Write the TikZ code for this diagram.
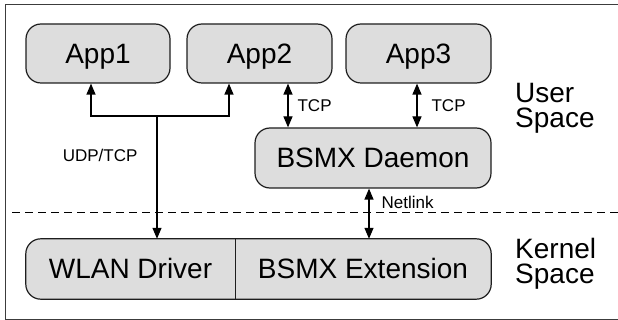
\documentclass[tikz,border=0pt]{standalone}
\usepackage{fontspec}
\setmainfont{Liberation Sans}
\usetikzlibrary{arrows.meta,backgrounds}
\definecolor{boxfill}{RGB}{221,221,221}
\definecolor{boxline}{RGB}{30,30,30}
\definecolor{framecol}{RGB}{60,60,60}
\begin{document}
\begin{tikzpicture}[x=1pt,y=-1pt,
  bigfont/.style={font=\fontsize{28}{25}\selectfont},
  box/.style={draw=boxline, fill=boxfill, line width=1.2pt, rounded corners=15pt,
    inner sep=0pt, minimum height=59pt, bigfont, text height=20pt, text depth=0pt},
  bare/.style={inner sep=0pt, minimum height=60pt, bigfont, text height=20pt, text depth=0pt},
  outline/.style={draw=boxline, fill=boxfill, line width=1.2pt, rounded corners=15pt},
  tip/.tip={Triangle[length=11pt,width=9pt]},
  link/.style={line width=1.2pt, -tip},
  dlink/.style={line width=1.2pt, tip-tip},
  lbl/.style={font=\fontsize{17}{20}\selectfont, inner sep=0pt},
  side/.style={bigfont, align=left, inner sep=0pt, anchor=west},
  frame/.style={draw=framecol, line width=1pt},
  sep/.style={line width=1pt, dash pattern=on 8pt off 5pt}
]
\useasboundingbox (0,0) rectangle (618,320);
\draw[frame] (618,5) -| (5,319) -- (618,319);

% user space
\node[box, minimum width=144pt] (app1) at (98,53.5) {App1};
\node[box, minimum width=145pt] (app2) at (259.5,53.5) {App2};
\node[box, minimum width=145pt] (app3) at (418.5,53.5) {App3};
\node[box, minimum width=236pt, minimum height=60pt] (daemon) at (373,158) {BSMX Daemon};

% kernel space
\node[bare, minimum width=209pt] (wlan) at (130.5,269) {WLAN Driver};
\node[bare, minimum width=256pt] (ext) at (363,269) {BSMX Extension};
\begin{scope}[on background layer]
  \draw[outline] (wlan.north west) rectangle (ext.south east);
\end{scope}
\draw[line width=1.2pt, draw=boxline] (wlan.north east) -- (wlan.south east);

% separator
\draw[sep] (12,213) -- (618,213);

% connectors
\coordinate (j) at (157,116);
\draw[link] (j) -| ([xshift=-7pt]app1.south);
\draw[link] (j) -| ([xshift=-30.5pt]app2.south);
\draw[link] (j) -- (j |- wlan.north)
  node[lbl, pos=0.317, anchor=east, xshift=-19pt] {UDP/TCP};
\draw[dlink] ([xshift=28.5pt]app2.south) -- ([xshift=-85pt]daemon.north)
  node[lbl, midway, anchor=west, xshift=9pt] {TCP};
\draw[dlink] ([xshift=-1.5pt]app3.south) -- ([xshift=44pt]daemon.north)
  node[lbl, midway, anchor=west, xshift=14pt] {TCP};
\draw[dlink] ([xshift=-4pt]daemon.south) -- ([xshift=6pt]ext.north)
  node[lbl, pos=0.27, anchor=west, xshift=12pt] {Netlink};

% side labels
\node[side] (user) at (515,108) {User\\Space};
\node[side] (kernel) at (515,264) {Kernel\\Space};
\end{tikzpicture}
\end{document}
